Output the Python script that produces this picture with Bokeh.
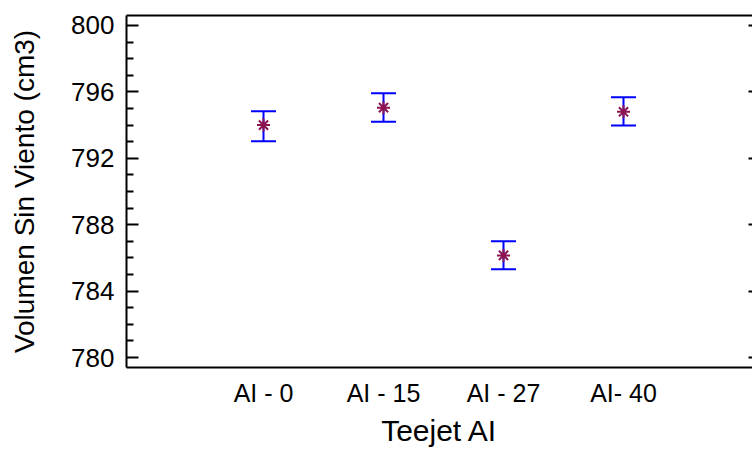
from bokeh.plotting import figure
from bokeh.models import ColumnDataSource, Whisker, TeeHead, LinearAxis, FixedTicker
from bokeh.embed import file_html
from bokeh.resources import INLINE

# ---- data ----
categories = ["AI - 0", "AI - 15", "AI - 27", "AI- 40"]
positions = [1, 2, 3, 4]
means = [794.0, 795.05, 786.15, 794.8]
lower = [793.02, 794.2, 785.32, 793.97]
upper = [794.83, 795.92, 787.0, 795.67]
y_major = [780, 784, 788, 792, 796, 800]
y_minor = [781, 782, 783, 785, 786, 787, 789, 790, 791, 793, 794, 795, 797, 798, 799]

FONT = "Liberation Sans"

src = ColumnDataSource(dict(x=positions, y=means, lo=lower, hi=upper))

p = figure(width=752, height=450, output_backend="svg", toolbar_location=None,
           x_range=(-0.1417, 5.075), y_range=(779.4, 800.6),
           min_border_left=126, min_border_right=0, min_border_top=15, min_border_bottom=83,
           x_axis_location=None, y_axis_location=None)
p.outline_line_color = None
p.grid.visible = False
p.background_fill_color = "white"
p.border_fill_color = "white"

# left axis
left = LinearAxis(ticker=FixedTicker(ticks=y_major, minor_ticks=y_minor))
left.axis_label = "Volumen Sin Viento (cm3)"
left.axis_label_text_font = FONT
left.axis_label_text_font_size = "28px"
left.axis_label_text_font_style = "normal"
left.axis_label_text_color = "black"
left.axis_label_standoff = 28
left.major_label_text_font = FONT
left.major_label_text_font_size = "26px"
left.major_label_text_color = "black"
left.major_label_standoff = 12
left.axis_line_width = 2
left.major_tick_in = 12
left.major_tick_out = 0
left.major_tick_line_width = 2
left.minor_tick_in = 7
left.minor_tick_out = 0
left.minor_tick_line_width = 2
p.add_layout(left, "left")

# bottom axis
bottom = LinearAxis(ticker=FixedTicker(ticks=positions))
bottom.major_label_overrides = {pos: lab for pos, lab in zip(positions, categories)}
bottom.axis_label = "Teejet AI"
bottom.axis_label_text_font = FONT
bottom.axis_label_text_font_size = "30px"
bottom.axis_label_text_font_style = "normal"
bottom.axis_label_text_color = "black"
bottom.axis_label_standoff = 4
bottom.major_label_text_font = FONT
bottom.major_label_text_font_size = "25px"
bottom.major_label_text_color = "black"
bottom.major_label_standoff = 11
bottom.axis_line_width = 2
bottom.major_tick_in = 0
bottom.major_tick_out = 0
bottom.minor_tick_line_color = None
p.add_layout(bottom, "below")

# top border line
top = LinearAxis(ticker=FixedTicker(ticks=[]))
top.axis_line_width = 2
top.major_tick_line_color = None
top.minor_tick_line_color = None
top.major_label_text_color = None
top.major_label_text_font_size = "1px"
top.major_label_standoff = 0
p.add_layout(top, "above")

# right ticks (no line, no labels)
right = LinearAxis(ticker=FixedTicker(ticks=y_major))
right.axis_line_color = None
right.major_tick_in = 4
right.major_tick_out = 0
right.major_tick_line_width = 2
right.minor_tick_line_color = None
right.major_label_text_color = None
right.major_label_text_font_size = "1px"
right.major_label_standoff = 0
p.add_layout(right, "right")

# error bars
w = Whisker(source=src, base="x", lower="lo", upper="hi",
            line_color="#0000FF", line_width=2,
            upper_head=TeeHead(size=25, line_color="#0000FF", line_width=2),
            lower_head=TeeHead(size=25, line_color="#0000FF", line_width=2))
p.add_layout(w)

p.scatter("x", "y", source=src, marker="asterisk", size=13,
          line_color="#8C1450", line_width=2)

open("out.html", "w").write(file_html(p, INLINE))
